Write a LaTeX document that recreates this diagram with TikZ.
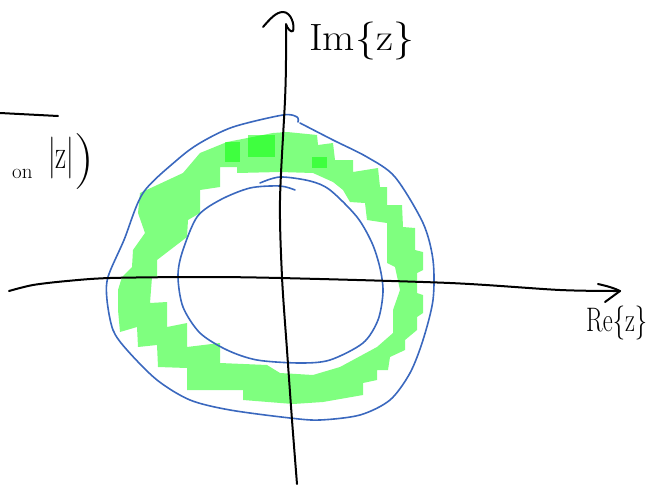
\documentclass[tikz,border=0pt]{standalone}
\usetikzlibrary{arrows.meta,positioning,calc}
\definecolor{Ink}{HTML}{000000}
\definecolor{Pen}{HTML}{3A68BE}
\definecolor{Marker}{HTML}{00FF00}

\begin{document}
\begin{tikzpicture}[x=1pt,y=-1pt,
  axis/.style={Ink,line width=2pt,line cap=round,line join=round},
  contour/.style={Pen,line width=1.6pt,line cap=round},
  hand/.style={font=\fontsize{#1}{#1}\selectfont,inner sep=0pt,text=Ink}]
\useasboundingbox (0,0) rectangle (655,484);
% marker band
\fill[Marker,opacity=0.5,even odd rule]
  (183,173) -- (200,153) -- (227,142) -- (273,133) -- (287,132) -- (317,135) -- (318,145) -- (333,143)
  -- (335,160) -- (353,160) -- (353,172) -- (378,168) -- (380,187) -- (387,187) -- (387,205) -- (402,205)
  -- (403,227) -- (415,228) -- (415,250) -- (423,252) -- (423,270) -- (417,273) -- (417,293) -- (423,295)
  -- (423,313) -- (417,317) -- (417,330) -- (405,340) -- (405,350) -- (390,357) -- (388,370) -- (377,370)
  -- (377,380) -- (363,383) -- (363,395) -- (323,402) -- (293,404) -- (243,400) -- (243,390) -- (187,390)
  -- (187,368) -- (158,367) -- (157,345) -- (138,347) -- (137,327) -- (120,332) -- (118,310) -- (118,290)
  -- (122,277) -- (132,267) -- (133,250) -- (145,233) -- (138,213) -- (140,193) -- cycle
  (237,173) -- (280,172) -- (313,173) -- (333,182) -- (343,190) -- (350,202) -- (365,203) -- (367,220)
  -- (387,223) -- (387,263) -- (395,267) -- (400,290) -- (393,310) -- (393,333) -- (377,347) -- (340,367)
  -- (313,375) -- (280,373) -- (267,365) -- (220,363) -- (220,343) -- (187,347) -- (187,323) -- (167,327)
  -- (167,302) -- (150,303) -- (152,277) -- (157,277) -- (157,260) -- (187,237) -- (188,220) -- (200,213)
  -- (200,190) -- (220,187) -- (220,167) -- (237,167) -- cycle;
\fill[Marker,opacity=0.5] (225,142) rectangle (240,162);
\fill[Marker,opacity=0.5] (248,135) rectangle (275,157);
\fill[Marker,opacity=0.5] (312,157) rectangle (327,168);
% contours
\draw[contour] plot[smooth] coordinates {(300,123) (333,140) (367,157) (395,177) (423,223) (433,260) (433,300) (423,340) (410,373) (390,400) (360,415) (320,420) (290,418) (230,410) (190,400) (157,380) (127,350) (113,330) (107,300) (108,277) (124,240) (143,193) (177,160) (200,143) (233,127) (283,115) (297,117) (298,122)};
\draw[contour] plot[smooth] coordinates {(260,183) (280,177) (310,181) (330,190) (357,217) (372,243) (380,268) (383,292) (378,320) (363,343) (330,360) (300,363) (257,360) (227,350) (200,333) (183,307) (178,277) (182,253) (197,217) (220,200) (250,188) (280,186) (295,190)};
% axes
\draw[axis] plot[smooth] coordinates {(9,291) (33,285) (67,281) (110,278) (200,277) (280,278) (450,283) (560,290) (620,291)};
\draw[axis] (598,284) .. controls (607,286) and (614,288) .. (620,291) -- (605,302);
\draw[axis] plot[smooth] coordinates {(297,484) (292,420) (287,350) (282,277) (280,200) (285,100) (286,60) (286,25)};
\draw[axis] (263,27) .. controls (270,19) and (276,12) .. (283,12) .. controls (291,12) and (295,25) .. (293,31) .. controls (291,33) and (287,28) .. (286,24);
\draw[axis] (0,113) -- (58,116);
% labels
\node[hand=38,anchor=base west] (imlabel) at (309,51) {\scalebox{1.1}[1]{Im\{z\}}};
\node[hand=34,anchor=base west] (relabel) at (586,331) {\scalebox{0.72}[1]{Re\{z\}}};
\node[hand=21,anchor=base west] (onlabel) at (12,178) {on};
\node[hand=42,anchor=base west] (modlabel) at (48,168) {\scalebox{0.65}[1]{|z|}};
\node[hand=56,anchor=base west] (parenlabel) at (74,175) {)};
\end{tikzpicture}
\end{document}
